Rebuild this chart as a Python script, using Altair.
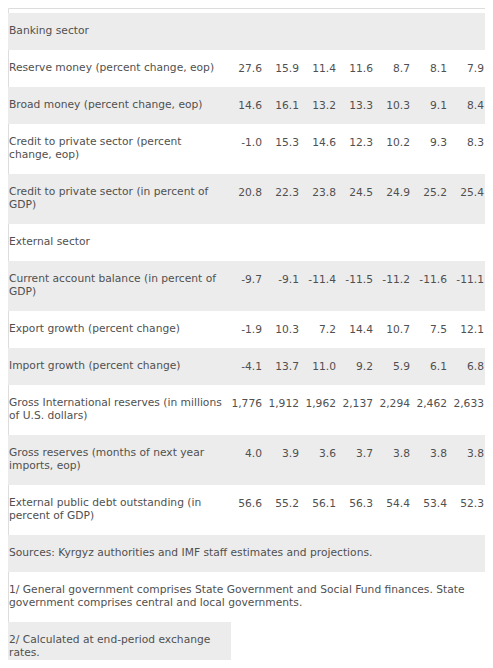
import altair as alt
import pandas as pd

# ---------------- data ----------------
labels = [
    "Banking sector",
    "Reserve money (percent change, eop)",
    "Broad money (percent change, eop)",
    "Credit to private sector (percent\nchange, eop)",
    "Credit to private sector (in percent of\nGDP)",
    "External sector",
    "Current account balance (in percent of\nGDP)",
    "Export growth (percent change)",
    "Import growth (percent change)",
    "Gross International reserves (in millions\nof U.S. dollars)",
    "Gross reserves (months of next year\nimports, eop)",
    "External public debt outstanding (in\npercent of GDP)",
    "Sources: Kyrgyz authorities and IMF staff estimates and projections.",
    "1/ General government comprises State Government and Social Fund finances. State\ngovernment comprises central and local governments.",
    "2/ Calculated at end-period exchange\nrates.",
]

reserve_money = [27.6, 15.9, 11.4, 11.6, 8.7, 8.1, 7.9]
broad_money = [14.6, 16.1, 13.2, 13.3, 10.3, 9.1, 8.4]
credit_pct_change = [-1.0, 15.3, 14.6, 12.3, 10.2, 9.3, 8.3]
credit_pct_gdp = [20.8, 22.3, 23.8, 24.5, 24.9, 25.2, 25.4]
current_account = [-9.7, -9.1, -11.4, -11.5, -11.2, -11.6, -11.1]
export_growth = [-1.9, 10.3, 7.2, 14.4, 10.7, 7.5, 12.1]
import_growth = [-4.1, 13.7, 11.0, 9.2, 5.9, 6.1, 6.8]
gross_intl_reserves = [1776, 1912, 1962, 2137, 2294, 2462, 2633]
gross_reserves_months = [4.0, 3.9, 3.6, 3.7, 3.8, 3.8, 3.8]
external_debt = [56.6, 55.2, 56.1, 56.3, 54.4, 53.4, 52.3]

row_values = [
    None, reserve_money, broad_money, credit_pct_change, credit_pct_gdp,
    None, current_account, export_growth, import_growth, gross_intl_reserves,
    gross_reserves_months, external_debt, None, None, None,
]
label_only_last = True  # last footnote occupies only the label column

# ---------------- layout ----------------
W, H = 477, 652
TOP = 5
LINE_H = 13
PAD_H = 24
TABLE_R = 477
LABEL_COL_R = 223
N_COLS = 7
COL_W = 37
FS = 10.7
FIRST_LINE = 18.5  # centre of first text line below row top

bands, texts, nums = [], [], []
y = TOP
for i, (lab, vals) in enumerate(zip(labels, row_values)):
    n_lines = len(lab.split("\n"))
    h = PAD_H + LINE_H * n_lines
    if i % 2 == 0:
        x1 = LABEL_COL_R if (label_only_last and i == len(labels) - 1) else TABLE_R
        bands.append({"x": 0, "x2": x1, "y": y, "y2": min(y + h, H)})
    texts.append({"x": 1, "y": y + FIRST_LINE - 0.49 * FS, "t": lab})
    if vals is not None:
        for j, v in enumerate(vals):
            s = f"{v:,.0f}" if abs(v) >= 1000 else f"{v:.1f}"
            nums.append({"x": LABEL_COL_R + COL_W * (j + 1) - 6, "y": y + FIRST_LINE, "t": s})
    y += h

xs = alt.Scale(domain=[0, W], nice=False, zero=False)
ys = alt.Scale(domain=[0, H], nice=False, zero=False, reverse=True)

band_layer = alt.Chart(pd.DataFrame(bands)).mark_rect(color="#ececec").encode(
    x=alt.X("x:Q", scale=xs, axis=None),
    x2="x2:Q",
    y=alt.Y("y:Q", scale=ys, axis=None),
    y2="y2:Q",
)

text_style = dict(font="DejaVu Sans", fontSize=FS, color="#505050")

label_layer = alt.Chart(pd.DataFrame(texts)).mark_text(
    align="left", baseline="top", lineBreak="\n", lineHeight=LINE_H, **text_style
).encode(
    x=alt.X("x:Q", scale=xs, axis=None),
    y=alt.Y("y:Q", scale=ys, axis=None),
    text="t:N",
)

num_layer = alt.Chart(pd.DataFrame(nums)).mark_text(
    align="right", baseline="middle", **text_style
).encode(
    x=alt.X("x:Q", scale=xs, axis=None),
    y=alt.Y("y:Q", scale=ys, axis=None),
    text="t:N",
)

chart = alt.layer(band_layer, label_layer, num_layer).properties(
    width=W, height=H, autosize="none", padding=0
).configure_view(stroke=None).configure(background="white")

chart.save("out.html", embed_options={"renderer": "svg", "actions": False})
